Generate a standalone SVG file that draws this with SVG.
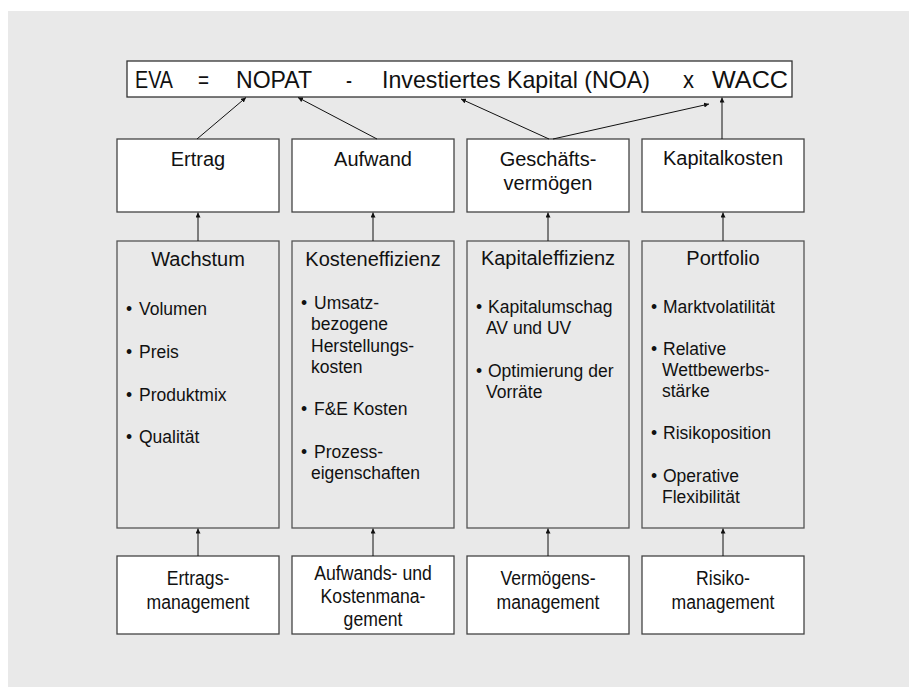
<svg xmlns="http://www.w3.org/2000/svg" width="909" height="687" viewBox="0 0 909 687">
  <style>
    text { font-family: "Liberation Sans", Arial, sans-serif; fill: #111; }
    .box { fill: #ffffff; stroke: #444; stroke-width: 1.3; }
    .panel { fill: #e9e9e9; stroke: #555; stroke-width: 1.3; }
    .head { font-size: 20px; text-anchor: middle; }
    .item { font-size: 17.5px; }
    .mgmt { font-size: 21px; text-anchor: middle; }
    .formula { font-size: 24px; }
    .conn line { stroke: #111; stroke-width: 1; marker-end: url(#tip); }
  </style>
  <defs>
    <marker id="tip" viewBox="0 0 6 6" refX="6" refY="3" markerWidth="5" markerHeight="5" markerUnits="userSpaceOnUse" orient="auto">
      <path d="M0,0 L6,3 L0,6 z" fill="#111"/>
    </marker>
  </defs>

  <!-- background -->
  <rect x="8" y="11" width="901" height="676" fill="#e9e9e9"/>

  <!-- EVA formula -->
  <g id="formula">
    <rect class="box" x="127" y="61" width="665" height="36" style="stroke:#333"/>
    <text class="formula" x="135" y="88" textLength="38" lengthAdjust="spacingAndGlyphs">EVA</text>
    <text class="formula" x="198" y="88" textLength="11" lengthAdjust="spacingAndGlyphs">=</text>
    <text class="formula" x="236" y="88" textLength="76" lengthAdjust="spacingAndGlyphs">NOPAT</text>
    <text class="formula" x="346" y="88" textLength="6" lengthAdjust="spacingAndGlyphs">-</text>
    <text class="formula" x="382" y="88" textLength="268" lengthAdjust="spacingAndGlyphs">Investiertes Kapital (NOA)</text>
    <text class="formula" x="683" y="88" textLength="11" lengthAdjust="spacingAndGlyphs">x</text>
    <text class="formula" x="712" y="88" textLength="76" lengthAdjust="spacingAndGlyphs">WACC</text>
  </g>

  <!-- value drivers -->
  <g id="ertrag">
    <rect class="box" x="117" y="139" width="162" height="73"/>
    <text class="head" x="198" y="166">Ertrag</text>
  </g>
  <g id="aufwand">
    <rect class="box" x="292" y="139" width="162" height="73"/>
    <text class="head" x="373" y="166">Aufwand</text>
  </g>
  <g id="geschaeftsvermoegen">
    <rect class="box" x="467" y="139" width="162" height="73"/>
    <text class="head" x="548" y="166">Geschäfts-</text>
    <text class="head" x="548" y="190">vermögen</text>
  </g>
  <g id="kapitalkosten">
    <rect class="box" x="642" y="139" width="162" height="73"/>
    <text class="head" x="723" y="165">Kapitalkosten</text>
  </g>

  <!-- levers -->
  <g id="wachstum">
    <rect class="panel" x="117" y="241" width="162" height="287"/>
    <text class="head" x="198" y="266">Wachstum</text>
    <text class="item" x="126" y="315">•</text><text class="item" x="139" y="315">Volumen</text>
    <text class="item" x="126" y="358">•</text><text class="item" x="139" y="358">Preis</text>
    <text class="item" x="126" y="401">•</text><text class="item" x="139" y="401">Produktmix</text>
    <text class="item" x="126" y="443">•</text><text class="item" x="139" y="443">Qualität</text>
  </g>
  <g id="kosteneffizienz">
    <rect class="panel" x="292" y="241" width="162" height="287"/>
    <text class="head" x="373" y="266">Kosteneffizienz</text>
    <text class="item" x="301" y="309">•</text><text class="item" x="314" y="309">Umsatz-</text>
    <text class="item" x="311" y="330">bezogene</text>
    <text class="item" x="311" y="352">Herstellungs-</text>
    <text class="item" x="311" y="373">kosten</text>
    <text class="item" x="301" y="415">•</text><text class="item" x="314" y="415">F&amp;E Kosten</text>
    <text class="item" x="301" y="458">•</text><text class="item" x="314" y="458">Prozess-</text>
    <text class="item" x="311" y="479">eigenschaften</text>
  </g>
  <g id="kapitaleffizienz">
    <rect class="panel" x="467" y="241" width="162" height="287"/>
    <text class="head" x="548" y="265">Kapitaleffizienz</text>
    <text class="item" x="476" y="313">•</text><text class="item" x="488" y="313">Kapitalumschag</text>
    <text class="item" x="486" y="334">AV und UV</text>
    <text class="item" x="476" y="377">•</text><text class="item" x="488" y="377">Optimierung der</text>
    <text class="item" x="486" y="398">Vorräte</text>
  </g>
  <g id="portfolio">
    <rect class="panel" x="642" y="241" width="162" height="287"/>
    <text class="head" x="723" y="265">Portfolio</text>
    <text class="item" x="651" y="313">•</text><text class="item" x="663" y="313">Marktvolatilität</text>
    <text class="item" x="651" y="355">•</text><text class="item" x="663" y="355">Relative</text>
    <text class="item" x="662" y="376">Wettbewerbs-</text>
    <text class="item" x="662" y="397">stärke</text>
    <text class="item" x="651" y="439">•</text><text class="item" x="663" y="439">Risikoposition</text>
    <text class="item" x="651" y="482">•</text><text class="item" x="663" y="482">Operative</text>
    <text class="item" x="662" y="503">Flexibilität</text>
  </g>

  <!-- management fields -->
  <g id="ertragsmanagement">
    <rect class="box" x="117" y="556" width="162" height="78"/>
    <text class="mgmt" transform="translate(198,585) scale(0.84,1)">Ertrags-</text>
    <text class="mgmt" transform="translate(198,609) scale(0.84,1)">management</text>
  </g>
  <g id="kostenmanagement">
    <rect class="box" x="292" y="556" width="162" height="78"/>
    <text class="mgmt" transform="translate(373,580) scale(0.84,1)">Aufwands- und</text>
    <text class="mgmt" transform="translate(373,603) scale(0.84,1)">Kostenmana-</text>
    <text class="mgmt" transform="translate(373,626) scale(0.84,1)">gement</text>
  </g>
  <g id="vermoegensmanagement">
    <rect class="box" x="467" y="556" width="162" height="78"/>
    <text class="mgmt" transform="translate(548,585) scale(0.84,1)">Vermögens-</text>
    <text class="mgmt" transform="translate(548,609) scale(0.84,1)">management</text>
  </g>
  <g id="risikomanagement">
    <rect class="box" x="642" y="556" width="162" height="78"/>
    <text class="mgmt" transform="translate(723,585) scale(0.84,1)">Risiko-</text>
    <text class="mgmt" transform="translate(723,609) scale(0.84,1)">management</text>
  </g>

  <!-- connectors -->
  <g id="connectors" class="conn">
    <line x1="197" y1="139" x2="246" y2="97.5"/>
    <line x1="377" y1="139" x2="298" y2="97.5"/>
    <line x1="549" y1="139" x2="461" y2="99"/>
    <line x1="553" y1="139" x2="709" y2="104"/>
    <line x1="722" y1="139" x2="722" y2="97.5"/>

    <line x1="198" y1="241" x2="198" y2="212.5"/>
    <line x1="373" y1="241" x2="373" y2="212.5"/>
    <line x1="548" y1="241" x2="548" y2="212.5"/>
    <line x1="723" y1="241" x2="723" y2="212.5"/>

    <line x1="198" y1="556" x2="198" y2="528.5"/>
    <line x1="373" y1="556" x2="373" y2="528.5"/>
    <line x1="548" y1="556" x2="548" y2="528.5"/>
    <line x1="723" y1="556" x2="723" y2="528.5"/>
  </g>
</svg>
